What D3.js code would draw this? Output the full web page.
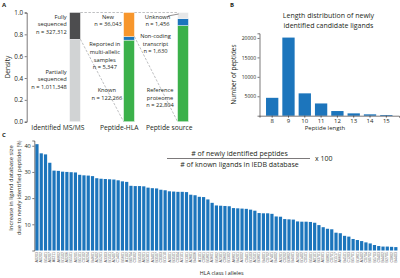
<!DOCTYPE html>
<html>
<head>
<meta charset="utf-8">
<script src="https://cdn.jsdelivr.net/npm/d3@7"></script>
<style>
	body { margin: 0; background: #fff; }
	svg { display: block; font-family: "Open Sans", sans-serif; fill: #231f20; }
</style>
</head>
<body>
<div id="root"></div>
<script>
// ---- panel A data
const stages = ["Identified MS/MS", "Peptide-HLA", "Peptide source"];
const msCounts = [1011348, 327312]; // partially, fully
const hlaCounts = [122266, 5347, 36043]; // known, multi-allelic, new
const sourceCounts = [22804, 1630, 1456]; // reference, non-coding, unknown
const densityTicks = [0, 0.2, 0.4, 0.6, 0.8, 1.0];

// ---- panel B data
const peptideLengths = [8, 9, 10, 11, 12, 13, 14, 15];
const peptideCounts = [4600, 20100, 5750, 3150, 1200, 600, 350, 180];
const countTicks = [5000, 10000, 15000, 20000];

// ---- panel C data
const alleles = [
	"A0203", "A0202", "B5401", "A0207", "A0211", "A6802", "B1502", "A0206", "B5501", "A0205",
	"B5101", "C0102", "A0204", "B4601", "A2402", "B5201", "A3303", "B1501", "A2407", "C1402",
	"B5601", "A1102", "B0704", "C0302", "B3503", "A0201", "B5301", "A3401", "B3507", "C0303",
	"B1510", "A3001", "B3501", "C0304", "A3101", "B1301", "A2601", "B4006", "A1101", "C0801",
	"B5801", "A3601", "B5802", "A2301", "C0602", "B1302", "A6801", "B4201", "A3002", "C0401",
	"B1503", "A2501", "B3801", "B4001", "C0702", "A7401", "B4002", "A3201", "C0202", "B3802",
	"B4901", "A2902", "B1402", "C0501", "B5001", "A0101", "B3701", "A0301", "B0801", "C0701",
	"B1517", "A6601", "B4501", "C1203", "B5701", "B1801", "A3402", "C0704", "B0702", "B5703",
	"C0403", "B4402", "B2705", "C0802", "B4403"
];
const increasePct = [
	40.6, 37.1, 36.7, 33.5, 30.5, 30.4, 30.1, 30.0, 29.9, 29.8,
	28.9, 28.7, 28.6, 28.4, 27.6, 27.4, 27.3, 27.2, 27.1, 26.8,
	26.4, 26.2, 24.7, 24.6, 24.6, 24.5, 24.0, 23.8, 23.7, 23.2,
	23.0, 22.6, 22.5, 22.4, 22.4, 22.3, 21.3, 21.1, 20.5, 20.4,
	19.5, 18.2, 17.2, 17.1, 17.0, 16.9, 16.2, 16.1, 16.0, 15.9,
	15.6, 15.2, 14.3, 14.2, 14.2, 14.0, 13.0, 12.9, 12.0, 11.9,
	11.8, 11.1, 11.0, 11.0, 10.9, 10.6, 9.7, 8.9, 8.3, 8.1,
	6.8, 6.6, 5.6, 5.3, 4.4, 4.0, 3.6, 3.1, 2.7, 2.1,
	1.7, 1.5, 1.5, 1.4, 1.3
];
const pctTicks = [10, 20, 30, 40];

const ink = "#231f20";
const blue = "#1c75bc";
const green = "#3bb14a";
const orange = "#f7962c";
const darkGrey = "#4d4d4f";
const lightGrey = "#d1d3d4";
const paleGrey = "#e6e7e8";

let app = () => {
	const chart = d3.select("#root").append("svg").attr("width", 400).attr("height", 278);

	const styleAxis = (g, fs) => {
		g.selectAll("path, line").attr("stroke", ink).attr("stroke-width", 0.6);
		g.selectAll("text").attr("fill", ink).style("font-size", fs + "px").style("font-family", '"Open Sans", sans-serif');
	};
	const panelLabel = (t, x, y) =>
		chart.append("text").text(t).attr("x", x).attr("y", y)
			.style("font-size", "6px").style("font-weight", "bold");

	// ================= A =================
	panelLabel("A", 2, 6.5);
	const yA = d3.scaleLinear().domain([0, 1]).range([121.7, 12.5]);
	const xA = d3.scalePoint().domain(stages).range([75, 183]);
	const barW = 10.8;

	const gA = chart.append("g");
	gA.append("g").attr("transform", "translate(26.7,0)")
		.call(d3.axisLeft(yA).tickValues(densityTicks).tickFormat(d3.format(".1f")).tickSize(2).tickPadding(1.5))
		.call((g) => styleAxis(g, 6.3));
	gA.append("text").text("Density").attr("transform", "translate(10," + yA(0.5) + ") rotate(-90)")
		.attr("text-anchor", "middle").style("font-size", "6.6px");

	const stacks = [
		{ stage: stages[0], counts: msCounts, colors: [lightGrey, darkGrey] },
		{ stage: stages[1], counts: hlaCounts, colors: [green, blue, orange] },
		{ stage: stages[2], counts: sourceCounts, colors: [green, blue, paleGrey] },
	];
	const segs = [];
	stacks.forEach((s) => {
		const total = d3.sum(s.counts);
		let acc = 0;
		s.counts.forEach((c, i) => {
			segs.push({ stage: s.stage, y0: acc / total, y1: (acc + c) / total, color: s.colors[i] });
			acc += c;
		});
	});
	gA.selectAll("rect.seg").data(segs).enter().append("rect")
		.attr("x", (d) => xA(d.stage) - barW / 2)
		.attr("y", (d) => yA(d.y1))
		.attr("width", barW)
		.attr("height", (d) => yA(d.y0) - yA(d.y1))
		.attr("fill", (d) => d.color)
		.attr("stroke", "#fff").attr("stroke-width", 0.4);

	// dashed connectors
	const fullyFrac = msCounts[0] / d3.sum(msCounts);
	const newFrac = (hlaCounts[0] + hlaCounts[1]) / d3.sum(hlaCounts);
	const dash = [
		[xA(stages[0]) + barW / 2, yA(1), xA(stages[1]) - barW / 2, yA(1)],
		[xA(stages[1]) + barW / 2, yA(1), xA(stages[2]) - barW / 2, yA(1)],
		[xA(stages[0]) + barW / 2, yA(fullyFrac), xA(stages[1]) - barW / 2, yA(0)],
		[xA(stages[1]) + barW / 2, yA(newFrac), xA(stages[2]) - barW / 2, yA(0)],
	];
	gA.selectAll("line.dash").data(dash).enter().append("line")
		.attr("x1", (d) => d[0]).attr("y1", (d) => d[1]).attr("x2", (d) => d[2]).attr("y2", (d) => d[3])
		.attr("stroke", "#939598").attr("stroke-width", 0.6).attr("stroke-dasharray", "2.5,1.5");

	// annotations
	const notes = [
		{ x: 66.7, y: 0.962, anchor: "end", lines: ["Fully", "sequenced", "n = 327,312"] },
		{ x: 66.7, y: 0.458, anchor: "end", lines: ["Partially", "sequenced", "n = 1,011,348"] },
		{ x: 108, y: 0.962, anchor: "middle", lines: ["New", "n = 36,043"] },
		{ x: 104.8, y: 0.709, anchor: "middle", lines: ["Reported in", "multi-allelic", "samples", "n = 5,347"] },
		{ x: 106.8, y: 0.29, anchor: "middle", lines: ["Known", "n = 122,266"] },
		{ x: 157.5, y: 0.962, anchor: "middle", lines: ["Unknown", "n = 1,456"] },
		{ x: 155.5, y: 0.785, anchor: "middle", lines: ["Non-coding", "transcript", "n = 1,630"] },
		{ x: 160, y: 0.29, anchor: "middle", lines: ["Reference", "proteome", "n = 22,804"] },
	];
	notes.forEach((n) => {
		const t = gA.append("text").attr("text-anchor", n.anchor).style("font-size", "5.7px");
		n.lines.forEach((l, i) => {
			t.append("tspan").attr("x", n.x).attr("y", yA(n.y) + 2 + i * 7.7).text(l);
		});
	});
	gA.append("line").attr("x1", 168).attr("y1", 16).attr("x2", xA(stages[2]) - barW / 2 + 1).attr("y2", 14)
		.attr("stroke", ink).attr("stroke-width", 0.5);

	gA.selectAll("text.stage").data(stages).enter().append("text")
		.attr("x", (d) => xA(d) + 9.5).attr("y", 130)
		.attr("text-anchor", "end").style("font-size", "6.7px").text((d) => d);

	// ================= B =================
	panelLabel("B", 230, 6.5);
	const xB = d3.scaleBand().domain(peptideLengths).range([259.5, 399]).paddingInner(0.245).paddingOuter(0.4);
	const yB = d3.scaleLinear().domain([0, 21200]).range([115.7, 33.3]);
	const gB = chart.append("g");
	gB.append("text").attr("text-anchor", "middle").style("font-size", "7px")
		.selectAll("tspan").data(["Length distribution of newly", "identified candidate ligands"]).enter()
		.append("tspan").attr("x", 328.5).attr("y", (d, i) => 17.5 + i * 10).text((d) => d);
	gB.selectAll("rect").data(peptideCounts).enter().append("rect")
		.attr("x", (d, i) => xB(peptideLengths[i]))
		.attr("y", (d) => yB(d))
		.attr("width", xB.bandwidth())
		.attr("height", (d) => yB(0) - yB(d))
		.attr("fill", blue);
	gB.append("g").attr("transform", "translate(0,115.7)")
		.call(d3.axisBottom(xB).tickSize(2).tickPadding(1.5))
		.call((g) => styleAxis(g, 6));
	gB.append("g").attr("transform", "translate(259.5,0)")
		.call(d3.axisLeft(yB).tickValues(countTicks).tickSize(2).tickPadding(1.5).tickFormat(d3.format("d")))
		.call((g) => styleAxis(g, 5));
	gB.append("text").text("Peptide length").attr("x", 325).attr("y", 130)
		.attr("text-anchor", "middle").style("font-size", "6px");
	gB.append("text").text("Number of peptides").attr("transform", "translate(235.5,74.5) rotate(-90)")
		.attr("text-anchor", "middle").style("font-size", "6.4px");

	// ================= C =================
	panelLabel("C", 2, 137);
	const xC = d3.scaleBand().domain(alleles).range([34.3, 398.5]).paddingInner(0.25).paddingOuter(0.25);
	const yC = d3.scaleLinear().domain([0, 42]).range([250.5, 140.5]);
	const gC = chart.append("g");
	gC.selectAll("rect").data(increasePct).enter().append("rect")
		.attr("x", (d, i) => xC(alleles[i]))
		.attr("y", (d) => yC(d))
		.attr("width", xC.bandwidth())
		.attr("height", (d) => yC(0) - yC(d))
		.attr("fill", blue);
	gC.append("g").attr("transform", "translate(34.3,0)")
		.call(d3.axisLeft(yC).tickValues(pctTicks).tickSize(2).tickPadding(1.5))
		.call((g) => styleAxis(g, 5.6));
	gC.append("g").attr("transform", "translate(0,250.5)")
		.call(d3.axisBottom(xC).tickSize(0).tickPadding(0))
		.call((g) => g.select(".domain").remove())
		.call((g) => g.selectAll("text")
			.attr("fill", "#58595b").style("font-size", "3.6px")
			.attr("text-anchor", "end").attr("dy", null).attr("y", 0)
			.attr("transform", "translate(1.2,1.5) rotate(-90)"));
	gC.append("text").attr("transform", "translate(13," + 188 + ") rotate(-90)")
		.attr("text-anchor", "middle").style("font-size", "5.8px").text("Increase in ligand database size");
	const l2 = gC.append("text").attr("transform", "translate(21," + 188 + ") rotate(-90)")
		.attr("text-anchor", "middle").style("font-size", "5.8px");
	l2.append("tspan").text("due to newly identified peptides ");
	l2.append("tspan").style("font-size", "4.5px").text("(%)");
	gC.append("text").text("HLA class I alleles").attr("x", 221.7).attr("y", 275)
		.attr("text-anchor", "middle").style("font-size", "5.4px");

	// ratio formula
	gC.append("text").text("# of newly identified peptides").attr("x", 239.5).attr("y", 155.5)
		.attr("text-anchor", "middle").style("font-size", "7px");
	gC.append("line").attr("x1", 167).attr("x2", 310).attr("y1", 158.5).attr("y2", 158.5)
		.attr("stroke", ink).attr("stroke-width", 0.6);
	gC.append("text").text("# of known ligands in IEDB database").attr("x", 239.5).attr("y", 167)
		.attr("text-anchor", "middle").style("font-size", "7px");
	gC.append("text").text("x 100").attr("x", 315).attr("y", 161).style("font-size", "7px");

	return chart.node();
};

app();
</script>
</body>
</html>
